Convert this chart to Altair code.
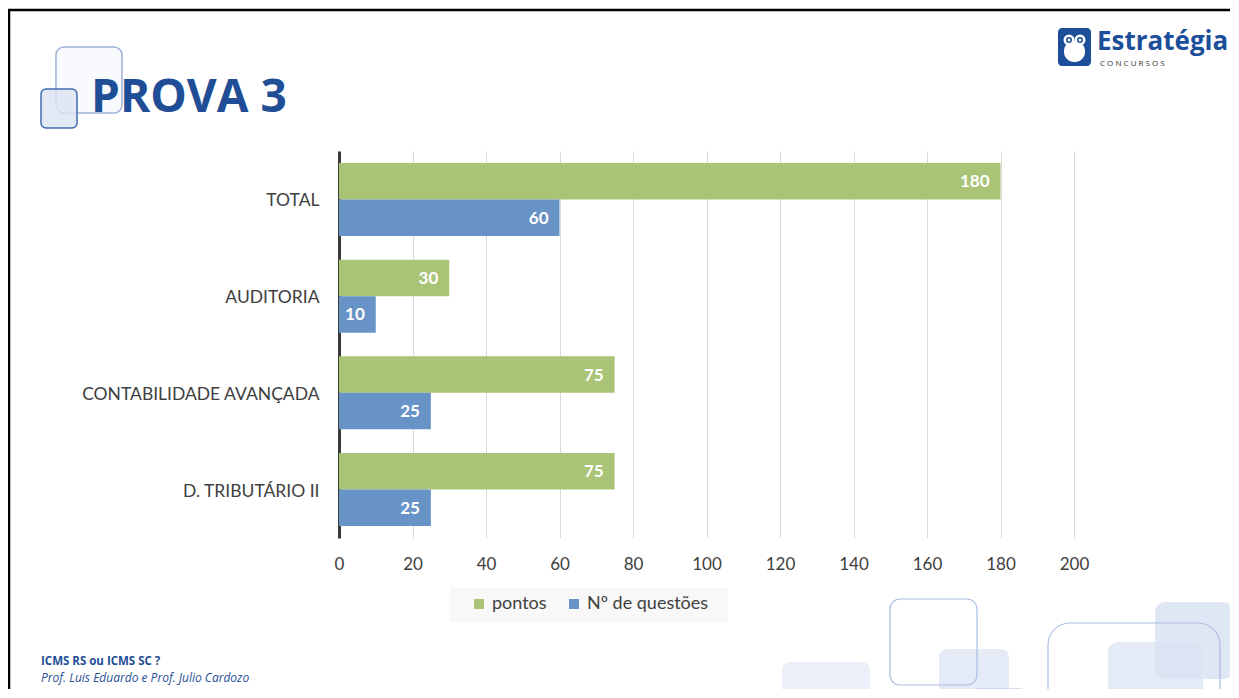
import altair as alt
import pandas as pd

# ---- data ----
categorias = ["TOTAL", "AUDITORIA", "CONTABILIDADE AVANÇADA", "D. TRIBUTÁRIO II"]
pontos = [180, 30, 75, 75]
questoes = [60, 10, 25, 25]
series = ["pontos", "Nº de questões"]
cores = ["#A9C476", "#6893C7"]
x_ticks = [0, 20, 40, 60, 80, 100, 120, 140, 160, 180, 200]

rows = []
for c, p, q in zip(categorias, pontos, questoes):
    rows.append({"categoria": c, "serie": series[0], "valor": p})
    rows.append({"categoria": c, "serie": series[1], "valor": q})
df = pd.DataFrame(rows)

FONT = "Lato"
TXT = "#404040"
BLUE = "#1F4E96"

# plot origin in page pixels
OX, OY = 339, 151
W, H = 735, 387
PL, PT = OX - 8, OY - 8
PR = 1222 - PL - W
PB = 681 - PT - H

one = alt.Data(values=[{}])


def rect(x1, y1, x2, y2, **kw):
    return alt.Chart(one).mark_rect(**kw).encode(
        x=alt.value(x1 - OX), x2=alt.value(x2 - OX),
        y=alt.value(y1 - OY), y2=alt.value(y2 - OY))


def text(s, x, y, **kw):
    return alt.Chart(one).mark_text(text=s, **kw).encode(
        x=alt.value(x - OX), y=alt.value(y - OY))


def dot(x, y, d, color):
    return alt.Chart(one).mark_point(shape="circle", filled=True, size=d * d,
                                     color=color, opacity=1, strokeWidth=0).encode(
        x=alt.value(x - OX), y=alt.value(y - OY))


def hline(x1, x2, y, **kw):
    return alt.Chart(one).mark_rule(**kw).encode(
        x=alt.value(x1 - OX), x2=alt.value(x2 - OX), y=alt.value(y - OY))


def vline(x, y1, y2, **kw):
    return alt.Chart(one).mark_rule(**kw).encode(
        x=alt.value(x - OX), y=alt.value(y1 - OY), y2=alt.value(y2 - OY))


# ---- chart ----
y_enc = alt.Y("categoria:N", sort=categorias,
              scale=alt.Scale(paddingInner=0.245, paddingOuter=0.124),
              axis=alt.Axis(title=None, labelFont=FONT, labelFontSize=17.5,
                            labelColor=TXT, labelPadding=20, ticks=False,
                            labelLimit=0, labelBaseline="middle", labelOffset=2,
                            domainColor="#3a3a3a", domainWidth=3, grid=False))
x_enc = alt.X("valor:Q", scale=alt.Scale(domain=[0, 200], nice=False),
              axis=alt.Axis(values=x_ticks, title=None, grid=True,
                            gridColor="#d9d9d9", gridWidth=1, domain=False,
                            ticks=False, labelFont=FONT, labelFontSize=17,
                            labelColor=TXT, labelPadding=18, labelFlush=False))
yoff = alt.YOffset("serie:N", sort=series,
                   scale=alt.Scale(domain=series, paddingInner=0, paddingOuter=0))

bars = alt.Chart(df).mark_bar().encode(
    x=x_enc, y=y_enc, yOffset=yoff,
    color=alt.Color("serie:N", scale=alt.Scale(domain=series, range=cores),
                    legend=alt.Legend(title=None, orient="none",
                                      legendX=470 - OX, legendY=595 - OY,
                                      direction="horizontal", symbolType="square",
                                      symbolSize=100, symbolStrokeWidth=0,
                                      symbolOpacity=1,
                                      labelFont=FONT, labelFontSize=18,
                                      labelColor=TXT, columnPadding=18,
                                      labelOffset=4, padding=0)),
)

labels = alt.Chart(df).mark_text(align="right", baseline="middle", dx=-11, dy=1,
                                 color="white", font=FONT, fontWeight="bold",
                                 fontSize=17).encode(
    x="valor:Q", y=alt.Y("categoria:N", sort=categorias), yOffset=yoff,
    text="valor:Q")

# ---- slide decorations ----
deco = [
    hline(8, 1240, 10, color="black", strokeWidth=2.5),
    vline(9, 10, 700, color="black", strokeWidth=2.5),
    # top-left squares
    rect(56, 47, 122, 113, cornerRadius=8, fill="#f3f6fb", fillOpacity=0.6,
         stroke="#9db2d8", strokeWidth=1.5),
    rect(41, 89, 77, 128, cornerRadius=5, fill="#dde4f2", fillOpacity=0.85,
         stroke="#3f6cb2", strokeWidth=1.5),
    # bottom-right squares
    rect(782, 662, 870, 720, cornerRadius=8, fill="#eaeff8"),
    rect(939, 649, 1009, 720, cornerRadius=8, fill="#e5ebf6"),
    rect(890, 599, 977, 685, cornerRadius=10, fillOpacity=0, stroke="#a9bde0",
         strokeWidth=1.2),
    rect(969, 689, 1030, 740, cornerRadius=10, fillOpacity=0, stroke="#a9bde0",
         strokeWidth=1.2),
    rect(1108, 642, 1203, 720, cornerRadius=10, fill="#e5ebf6"),
    rect(1155, 602, 1233, 679, cornerRadius=10, fill="#dbe3f2", fillOpacity=0.85),
    rect(1048, 623, 1220, 760, cornerRadius=22, fillOpacity=0, stroke="#a9bde0",
         strokeWidth=1.2),
    # legend background
    rect(450, 588, 728, 622, fill="#f8f8f8"),
    # title
    text("PROVA 3", 91, 112, align="left", baseline="alphabetic", font="Open Sans",
         fontSize=46, fontWeight="bold", color=BLUE),
    # logo
    rect(1058, 28, 1091, 66, cornerRadius=4, fill="#1C4E9A"),
    rect(1064, 41, 1085, 62, cornerRadius=10, fill="white"),
    dot(1069, 40, 11, "white"),
    dot(1080, 40, 11, "white"),
    dot(1069, 40, 6, "#1C4E9A"),
    dot(1080, 40, 6, "#1C4E9A"),
    dot(1069, 40, 3, "white"),
    dot(1080, 40, 3, "white"),
    text("Estratégia", 1097, 50, align="left", baseline="alphabetic",
         font="Open Sans", fontSize=26, fontWeight="bold", color="#1C4E9A"),
    text("C  O  N  C  U  R  S  O  S", 1100, 66, align="left", baseline="alphabetic",
         font="Open Sans", fontSize=8, color="#333333"),
    # footer
    text("ICMS RS ou ICMS SC ?", 41, 665, align="left", baseline="alphabetic",
         font="Open Sans", fontSize=11.5, fontWeight="bold", color=BLUE),
    text("Prof. Luis Eduardo e Prof. Julio Cardozo", 41, 682, align="left",
         baseline="alphabetic", font="Open Sans", fontSize=12,
         fontStyle="italic", color=BLUE),
]

chart = alt.layer(*deco, bars, labels).properties(
    width=W, height=H,
    padding={"left": PL, "top": PT, "right": PR, "bottom": PB},
    autosize=alt.AutoSizeParams(type="none"),
    background="white",
).configure_view(stroke=None)

chart.save("out.html", embed_options={"renderer": "svg", "actions": False})
